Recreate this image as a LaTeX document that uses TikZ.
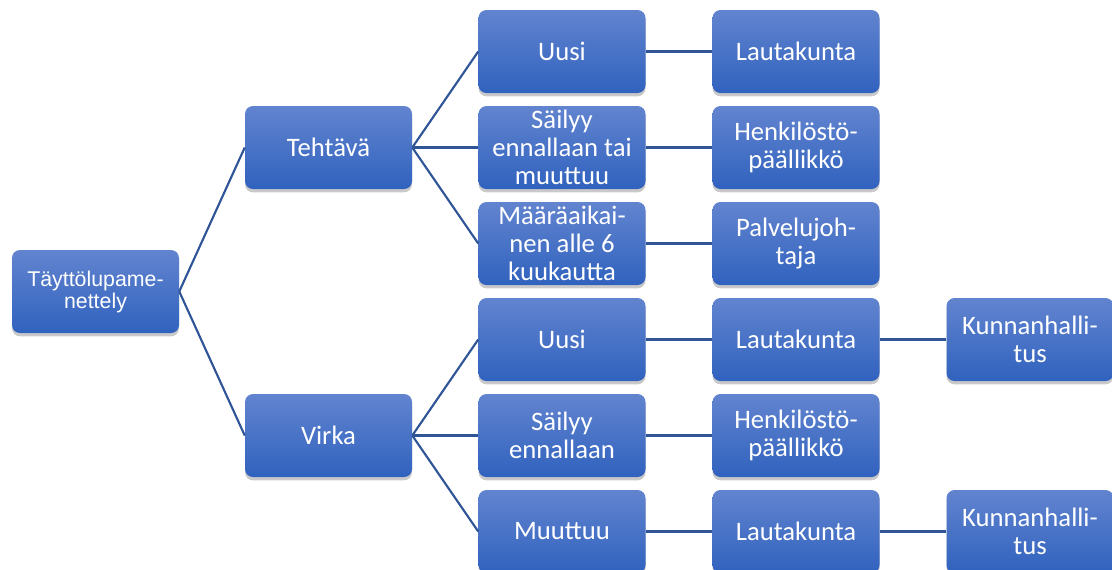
\documentclass[tikz,border=0pt]{standalone}
\usepackage{fontspec}
\setmainfont{Carlito}
\newfontfamily\arialfont{Liberation Sans}
\usetikzlibrary{shadows}
\definecolor{boxtop}{RGB}{98,132,207}
\definecolor{boxbot}{RGB}{48,98,190}
\definecolor{linkcol}{RGB}{47,85,151}
\tikzset{
  box/.style={rectangle, rounded corners=6pt, minimum width=125.25pt, minimum height=62.25pt,
    inner sep=0pt, top color=boxtop, bottom color=boxbot, text=white, align=center,
    font=\fontsize{20}{21}\selectfont,
    drop shadow={opacity=0.3, shadow xshift=0pt, shadow yshift=-2.5pt, fill=black!70}},
  rootbox/.style={box, font=\arialfont\fontsize{16}{16.5}\selectfont},
  link/.style={draw=linkcol, line width=1.6pt}
}
\begin{document}
\begin{tikzpicture}[x=0.75pt,y=-0.75pt]
\useasboundingbox (0,0) rectangle (1112,569);
\clip (0,0) rectangle (1112,569);
\node[rootbox] (root) at (95.5,291.5) {Täyttölupame-\\nettely};
\node[box] (teh) at (328.5,147.5) {Tehtävä};
\node[box] (vir) at (328.5,435.5) {Virka};
\node[box] (t1) at (562,51.5) {Uusi};
\node[box] (t2) at (562,147.5) {Säilyy\\ennallaan tai\\muuttuu};
\node[box] (t3) at (562,243.5) {Määräaikai-\\nen alle 6\\kuukautta};
\node[box] (v1) at (562,339.5) {Uusi};
\node[box] (v2) at (562,435.5) {Säilyy\\ennallaan};
\node[box] (v3) at (562,531.5) {Muuttuu};
\node[box] (t1a) at (796,51.5) {Lautakunta};
\node[box] (t2a) at (796,147.5) {Henkilöstö-\\päällikkö};
\node[box] (t3a) at (796,243.5) {Palvelujoh-\\taja};
\node[box] (v1a) at (796,339.5) {Lautakunta};
\node[box] (v2a) at (796,435.5) {Henkilöstö-\\päällikkö};
\node[box] (v3a) at (796,531.5) {Lautakunta};
\node[box] (v1b) at (1030,339.5) {Kunnanhalli-\\tus};
\node[box] (v3b) at (1030,531.5) {Kunnanhalli-\\tus};
\draw[link] (root.east) -- (teh.west);
\draw[link] (root.east) -- (vir.west);
\foreach \c in {t1,t2,t3} \draw[link] (teh.east) -- (\c.west);
\foreach \c in {v1,v2,v3} \draw[link] (vir.east) -- (\c.west);
\foreach \c in {t1,t2,t3,v1,v2,v3} \draw[link] (\c.east) -- (\c a.west);
\draw[link] (v1a.east) -- (v1b.west);
\draw[link] (v3a.east) -- (v3b.west);
\end{tikzpicture}
\end{document}
